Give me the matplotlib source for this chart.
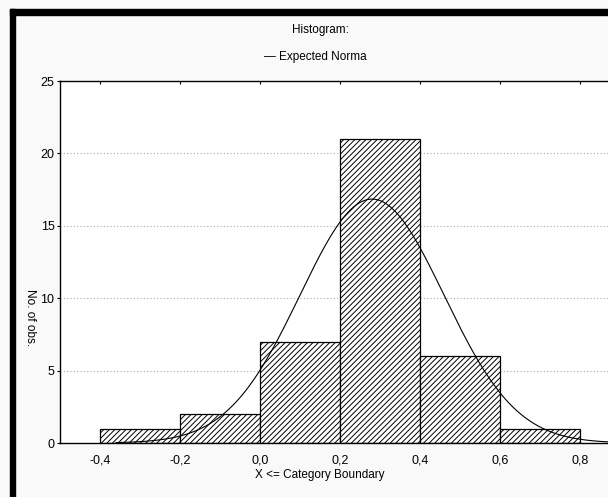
import numpy as np
import matplotlib
matplotlib.use("Agg")
import matplotlib.pyplot as plt
from matplotlib.patches import Rectangle
from matplotlib.ticker import FuncFormatter

# histogram: upper category boundaries and counts
bin_left = [-0.4, -0.2, 0.0, 0.2, 0.4, 0.6]
bin_width = 0.2
counts = [1, 2, 7, 21, 6, 1]

# expected normal curve parameters
n_obs = 38
mean = 0.28
sd = 0.18

xticks = [-0.4, -0.2, 0.0, 0.2, 0.4, 0.6, 0.8]
yticks = [0, 5, 10, 15, 20, 25]

plt.rcParams['font.family'] = ['Liberation Sans', 'DejaVu Sans']
plt.rcParams['hatch.linewidth'] = 0.7

W, H = 608, 497
fig = plt.figure(figsize=(W / 100, H / 100), dpi=100, facecolor='#f9f9f9')

# plot area in pixel terms, right edge runs past the canvas
left_px, top_px, bottom_px, right_px = 60, 81, 443, 620
ax = fig.add_axes([left_px / W, 1 - bottom_px / H,
                   (right_px - left_px) / W, (bottom_px - top_px) / H])
ax.set_facecolor('white')

ax.bar(bin_left, counts, width=bin_width, align='edge', color='white',
       edgecolor='black', linewidth=0.9, hatch='//////', zorder=2)

xs = np.linspace(-0.36, 0.9, 300)
expected = n_obs * bin_width / (sd * np.sqrt(2 * np.pi)) * np.exp(-0.5 * ((xs - mean) / sd) ** 2)
ax.plot(xs, expected, color='black', linewidth=0.8, zorder=3)

ax.set_xlim(-0.5, 0.9)
ax.set_ylim(0, 25)
ax.set_xticks(xticks)
ax.set_yticks(yticks)
comma = FuncFormatter(lambda v, p: f"{v:.1f}".replace('.', ','))
ax.xaxis.set_major_formatter(comma)
ax.yaxis.set_major_formatter(FuncFormatter(lambda v, p: f"{v:.0f}"))

for y in yticks[1:-1]:
    ax.axhline(y, color='#aaaaaa', linestyle=(0, (1, 2)), linewidth=0.8, zorder=1)

for side in ['left', 'top', 'bottom']:
    ax.spines[side].set_linewidth(1.0)
ax.spines['right'].set_visible(False)

ax.tick_params(axis='x', which='both', bottom=False, top=True, direction='in',
               length=2, labelsize=9, pad=8)
ax.tick_params(axis='y', which='both', left=True, direction='out',
               length=2, labelsize=9, pad=2)

# titles and labels
fig.text(320 / W, 1 - 30 / H, "Histogram:", ha='center', va='center', fontsize=8.5)
fig.text(315 / W, 1 - 57 / H, "\u2014 Expected Norma", ha='center', va='center', fontsize=8.5)
fig.text(320 / W, 1 - 475 / H, "X <= Category Boundary", ha='center', va='center', fontsize=8.5)
fig.text(30 / W, 1 - 318 / H, "No. of obs.", ha='center', va='center',
         rotation=270, fontsize=8.5)

# window frame on the left and top
fig.add_artist(Rectangle((10 / W, 0), 5 / W, 1 - 9 / H, transform=fig.transFigure,
                         color='black', zorder=10))
fig.add_artist(Rectangle((10 / W, 1 - 15 / H), 1, 6 / H, transform=fig.transFigure,
                         color='black', zorder=10))

fig.savefig("out.png", dpi=100, facecolor=fig.get_facecolor())
